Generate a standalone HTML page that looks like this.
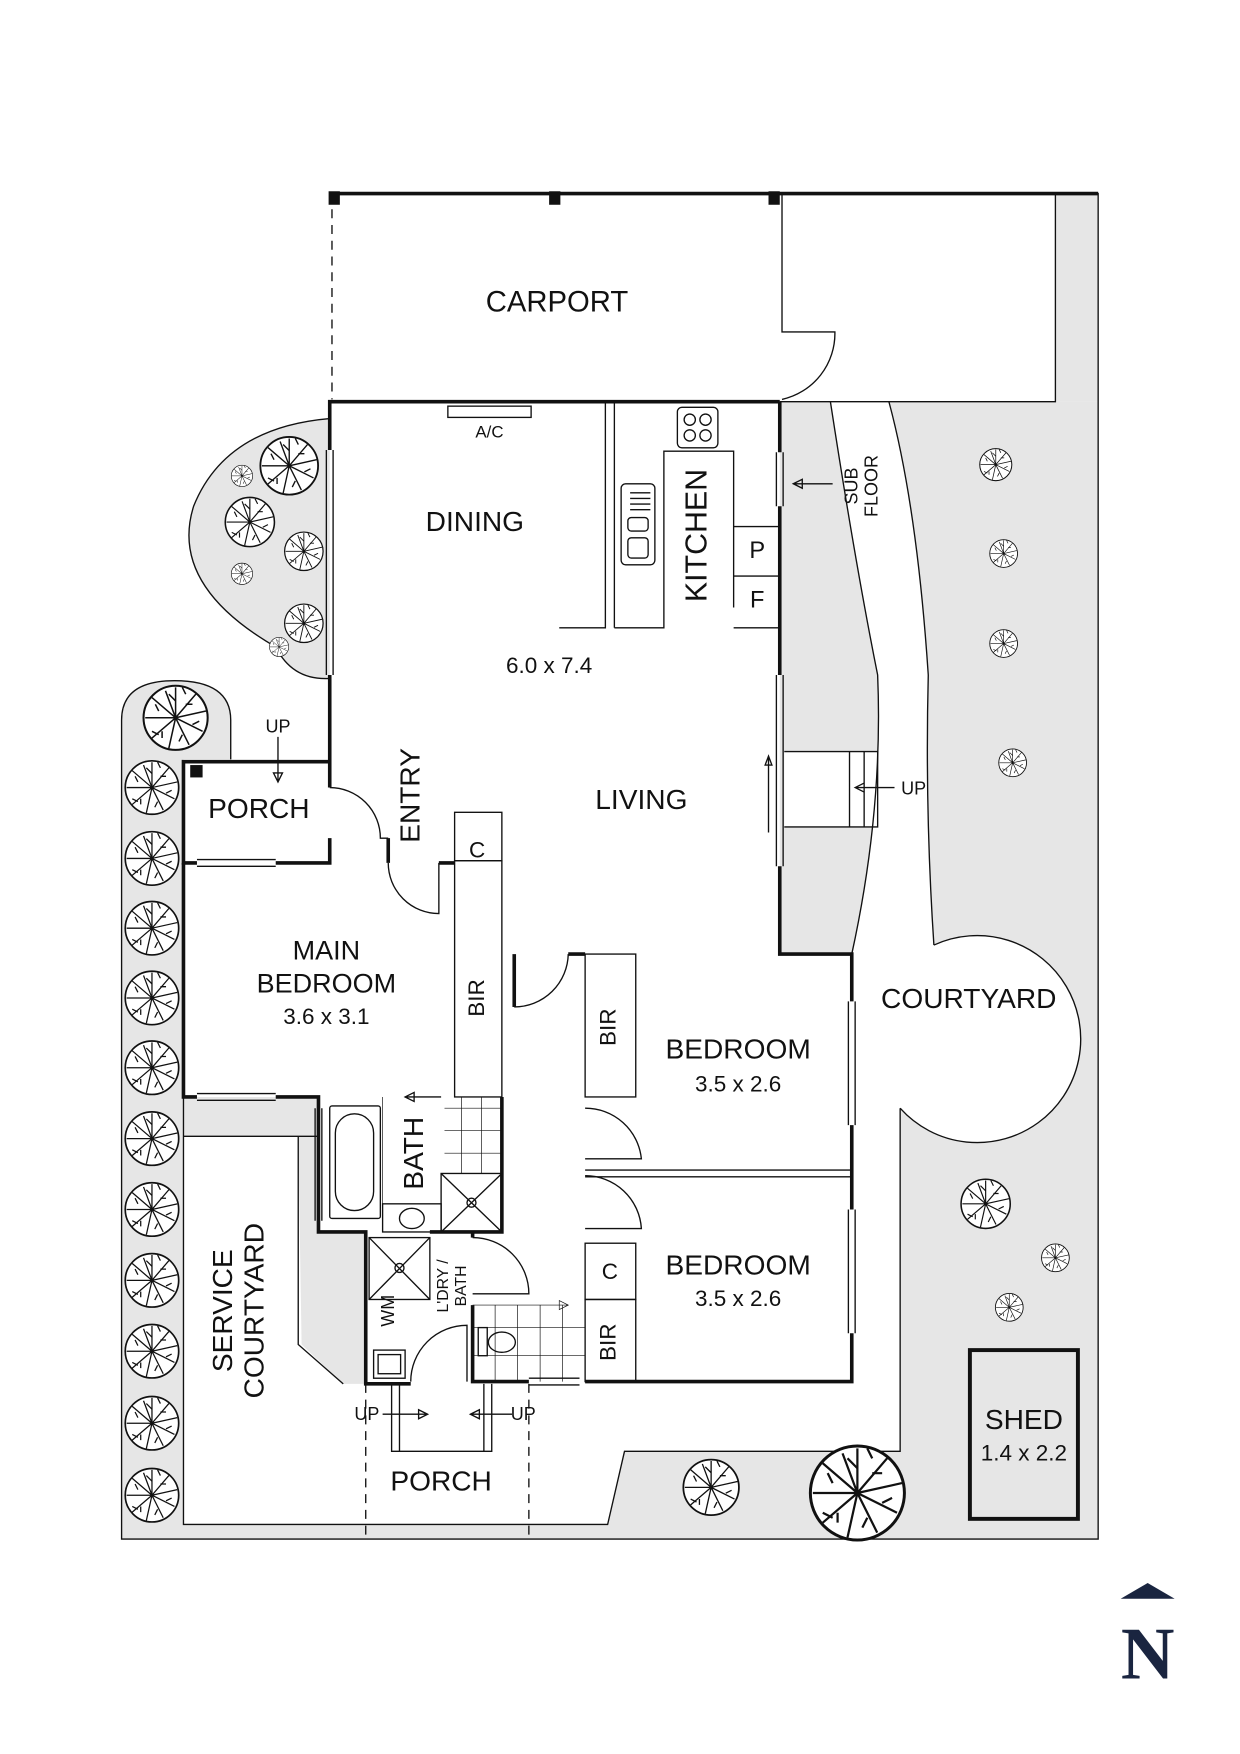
<!DOCTYPE html>
<html><head><meta charset="utf-8"><style>
html,body{margin:0;padding:0;background:#fff}
svg{display:block}
text{font-family:"Liberation Sans",Arial,sans-serif;fill:#111}
</style></head><body>
<svg width="1240" height="1754" viewBox="0 0 1102 1559" xmlns="http://www.w3.org/2000/svg">
<defs>
<symbol id="tr" viewBox="-10 -10 20 20">
<circle r="9.5" fill="#fff" stroke="#111" stroke-width="0.6"/>
<g stroke="#111" stroke-width="0.45" fill="none">
<path d="M0 0L0-9M0 0L6-7M0 0L9-2M0 0L8 4M0 0L4 8M0 0L-2 9M0 0L-7 6M0 0L-9 0M0 0L-7-6M0 0L-3-8"/>
<path d="M0-5L-2-7M3-4L5-4M5 2L7 1M2 5L1 7M-4 4L-4 6M-5-2L-6-4M3-7L2-9M-5 5L-7 4"/>
</g></symbol>
</defs>

<g fill="#e6e6e6" stroke="none">
<rect x="938" y="172" width="38" height="185"/>
<path d="M693 357 H976 V1368 H108 V640 Q108 605 155 605 Q205 605 205 640 V675 H163 V1355 H540 L555 1290 H800 V985 A92 92 0 1 0 830 840 Q822 720 825 600 Q815 450 790 357 H738 Q760 500 780 600 Q785 720 757 848 H693 Z"/>
<path d="M293 372 Q200 380 172 450 Q150 520 245 575 Q260 605 293 603 Z"/>
<path d="M163 975 H283 V1010 H163 Z"/>
<path d="M265 1010 H283 V1095 H325 V1230 H305 L268 1195 Z"/>
</g>
<rect x="697" y="668" width="83" height="67" fill="#fff"/>

<g fill="none" stroke="#111" stroke-width="1.2">
<path d="M938 172 H976 V1368 H108 V640 Q108 605 155 605 Q205 605 205 640 V675"/>
<path d="M938 172 V357 H693"/>
<path d="M163 765 V1355 H540 L555 1290 H800 V985"/>
<path d="M830 840 A92 92 0 1 1 800 985"/>
<path d="M738 357 Q760 500 780 600 Q785 720 757 848"/>
<path d="M790 357 Q815 450 825 600 Q822 720 830 840"/>
<path d="M293 372 Q200 380 172 450 Q150 520 245 575 Q260 605 293 603"/>
<path d="M163 1010 H283 M265 1010 V1195 L305 1230"/>
<path d="M695 172 V295 H742 A60 60 0 0 1 695 355"/>
<path d="M295 172 V355" stroke-dasharray="8 6"/>
<path d="M697 668 H780 V735 H697 M755 668 V735 M768 668 V735 M760 700 H795 M760 700 l8 -4 v8 z"/>
<path d="M683 740 V672 M683 672 l-3 8 h6 z"/>
<path d="M740 430 H705 M705 430 l8 -4 v8 z"/>
<path d="M538 357 V558 H497 M546 357 V558 M546 558 H590 V401 H652 V468 H693 M652 468 V512 H693 M652 512 V540 M652 558 H693"/>
<rect x="602" y="362" width="36" height="36" rx="4"/>
<circle cx="613" cy="373" r="5"/><circle cx="627" cy="373" r="5"/><circle cx="613" cy="387" r="5"/><circle cx="627" cy="387" r="5"/>
<rect x="552" y="430" width="30" height="72" rx="4"/>
<rect x="558" y="460" width="18" height="12" rx="3"/><rect x="558" y="478" width="18" height="18" rx="3"/>
<path d="M560 438 H578 M560 443 H578 M560 448 H578 M560 453 H578"/>
<rect x="398" y="361" width="74" height="10"/>
<path d="M290 400 V600 M296 400 V600 M690 402 V450 M696 402 V450 M690 600 V770 M696 600 V770"/>
<path d="M754 890 V1000 M760 890 V1000 M754 1075 V1185 M760 1075 V1185"/>
<path d="M175 764 H245 M175 770 H245 M175 972 H245 M175 978 H245 M470 1225 H515 M470 1231 H515"/>
<path d="M280 985 V1085 M286 985 V1085"/>
<path d="M247 655 V695 M247 695 l-4 -8 h8 z"/>
<path d="M293 700 A45 45 0 0 1 338 745 H345"/>
<path d="M345 767 A45 45 0 0 0 390 812 V767"/>
<path d="M457 895 A48 48 0 0 0 505 848"/>
<path d="M520 985 A50 50 0 0 1 570 1030 H520"/>
<path d="M520 1045 A50 50 0 0 1 570 1092 H520"/>
<path d="M520 1040 H757 M520 1046 H757"/>
<path d="M420 1100 A50 50 0 0 1 470 1150 H420"/>
<path d="M365 1228 A50 50 0 0 1 415 1178 V1228"/>
<rect x="404" y="722" width="42" height="43"/>
<rect x="404" y="765" width="42" height="210"/>
<rect x="520" y="848" width="45" height="127"/>
<rect x="520" y="1105" width="45" height="50"/>
<rect x="520" y="1155" width="45" height="73"/>
<rect x="293" y="983" width="45" height="100" rx="2"/>
<rect x="298" y="990" width="34" height="86" rx="17"/>
<rect x="392" y="1043" width="54" height="52"/>
<path d="M392 1043 L446 1095 M446 1043 L392 1095"/>
<circle cx="419" cy="1069" r="4"/>
<rect x="340" y="1070" width="52" height="25"/>
<ellipse cx="366" cy="1083" rx="11" ry="9"/>
<path d="M340 975 V1070 M395 985 H446 M395 1005 H446 M395 1025 H446 M410 975 V1043 M428 975 V1043 M446 975 V1043" stroke-width="0.6"/>
<path d="M392 975 H360 M360 975 l8 -4 v8 z"/>
<rect x="328" y="1100" width="54" height="55"/>
<path d="M328 1100 L382 1155 M382 1100 L328 1155"/>
<circle cx="355" cy="1127" r="4"/>
<rect x="332" y="1200" width="28" height="25"/><rect x="336" y="1204" width="20" height="17"/>
<path d="M420 1160 H505 M505 1160 l-8 -4 v8 z M440 1160 V1228 M460 1160 V1228 M480 1160 V1228 M500 1160 V1228 M420 1180 H520 M420 1205 H520" stroke-width="0.6"/>
<rect x="425" y="1180" width="8" height="25"/>
<ellipse cx="446" cy="1193" rx="12" ry="9"/>
<path d="M325 1230 V1368 M470 1230 V1368" stroke-dasharray="8 6"/>
<path d="M348 1230 V1290 H437 V1230 M355 1230 V1290 M430 1230 V1290"/>
<path d="M340 1257 H380 M380 1257 l-8 -4 v8 z M455 1257 H418 M418 1257 l8 -4 v8 z"/>
</g>

<g fill="none" stroke="#111" stroke-width="3.2">
<path d="M295 172 H976"/>
<path d="M693 357 H293 V400 M293 600 V677 H163 V767 H175 M245 767 H293 V745 M345 767 V745 M293 700 V677"/>
<path d="M390 767 H404"/>
<path d="M693 357 V402 M693 450 V600 M693 770 V848 H757 V890 M757 1000 V1075 M757 1185 V1228 H520 M470 1228 H420 V1160"/>
<path d="M163 767 V975 H175 M245 975 H283 V1095 H325 V1230 H365"/>
<path d="M457 848 V895 M505 848 H520"/>
<path d="M446 975 V1095 H382"/>
<path d="M420 1095 V1100"/>
</g>
<rect x="862" y="1200" width="96" height="150" fill="none" stroke="#111" stroke-width="3.5"/>
<g fill="#111">
<rect x="292" y="170" width="10" height="12"/><rect x="488" y="170" width="10" height="12"/><rect x="683" y="170" width="10" height="12"/>
<rect x="169" y="680" width="11" height="11"/>
</g>

<g>
<use href="#tr" x="230" y="387" width="54" height="54"/>
<use href="#tr" x="199" y="441" width="46" height="46"/>
<use href="#tr" x="252" y="472" width="36" height="36"/>
<use href="#tr" x="205" y="500" width="20" height="20"/>
<use href="#tr" x="205" y="413" width="20" height="20"/>
<use href="#tr" x="252" y="536" width="36" height="36"/>
<use href="#tr" x="239" y="566" width="18" height="18"/>
<use href="#tr" x="126" y="608" width="60" height="60"/>
<use href="#tr" x="110" y="675" width="50" height="50"/>
<use href="#tr" x="110" y="738" width="50" height="50"/>
<use href="#tr" x="110" y="800" width="50" height="50"/>
<use href="#tr" x="110" y="862" width="50" height="50"/>
<use href="#tr" x="110" y="924" width="50" height="50"/>
<use href="#tr" x="110" y="987" width="50" height="50"/>
<use href="#tr" x="110" y="1050" width="50" height="50"/>
<use href="#tr" x="110" y="1113" width="50" height="50"/>
<use href="#tr" x="110" y="1176" width="50" height="50"/>
<use href="#tr" x="110" y="1240" width="50" height="50"/>
<use href="#tr" x="110" y="1304" width="50" height="50"/>
<use href="#tr" x="870" y="398" width="30" height="30"/>
<use href="#tr" x="879" y="479" width="26" height="26"/>
<use href="#tr" x="879" y="559" width="26" height="26"/>
<use href="#tr" x="887" y="665" width="26" height="26"/>
<use href="#tr" x="853" y="1047" width="46" height="46"/>
<use href="#tr" x="925" y="1105" width="26" height="26"/>
<use href="#tr" x="884" y="1149" width="26" height="26"/>
<use href="#tr" x="606" y="1296" width="52" height="52"/>
<use href="#tr" x="718" y="1283" width="88" height="88"/>
</g>

<g text-anchor="middle">
<text x="495" y="277" font-size="26">CARPORT</text>
<text x="435" y="389" font-size="15">A/C</text>
<text x="422" y="472" font-size="25">DINING</text>
<text transform="translate(628,476) rotate(-90)" font-size="27">KITCHEN</text>
<text x="673" y="496" font-size="21">P</text>
<text x="673" y="540" font-size="21">F</text>
<text x="488" y="598" font-size="20">6.0 x 7.4</text>
<text transform="translate(762,432) rotate(-90)" font-size="16">SUB</text>
<text transform="translate(780,432) rotate(-90)" font-size="16">FLOOR</text>
<text x="812" y="706" font-size="16">UP</text>
<text x="570" y="719" font-size="25">LIVING</text>
<text transform="translate(373,707) rotate(-90)" font-size="25">ENTRY</text>
<text x="230" y="727" font-size="25">PORCH</text>
<text x="247" y="651" font-size="16">UP</text>
<text x="424" y="762" font-size="20">C</text>
<text x="290" y="853" font-size="24">MAIN</text>
<text x="290" y="882" font-size="24">BEDROOM</text>
<text x="290" y="910" font-size="20">3.6 x 3.1</text>
<text transform="translate(430,887) rotate(-90)" font-size="20">BIR</text>
<text x="861" y="896" font-size="25">COURTYARD</text>
<text transform="translate(547,913) rotate(-90)" font-size="20">BIR</text>
<text x="656" y="941" font-size="25">BEDROOM</text>
<text x="656" y="970" font-size="20">3.5 x 2.6</text>
<text transform="translate(376,1025) rotate(-90)" font-size="25">BATH</text>
<text x="542" y="1137" font-size="20">C</text>
<text x="656" y="1133" font-size="25">BEDROOM</text>
<text x="656" y="1161" font-size="20">3.5 x 2.6</text>
<text transform="translate(398,1143) rotate(-90)" font-size="14">L'DRY /</text>
<text transform="translate(414,1143) rotate(-90)" font-size="14">BATH</text>
<text transform="translate(350,1165) rotate(-90)" font-size="16">WM</text>
<text transform="translate(547,1193) rotate(-90)" font-size="20">BIR</text>
<text transform="translate(206,1165) rotate(-90)" font-size="25">SERVICE</text>
<text transform="translate(234,1165) rotate(-90)" font-size="25">COURTYARD</text>
<text x="326" y="1262" font-size="16">UP</text>
<text x="465" y="1262" font-size="16">UP</text>
<text x="392" y="1325" font-size="25">PORCH</text>
<text x="910" y="1270" font-size="25">SHED</text>
<text x="910" y="1298" font-size="20">1.4 x 2.2</text>
<text x="1020" y="1492" font-size="66" font-weight="bold" style="font-family:'Liberation Serif',serif;fill:#1a2540">N</text>
</g>
<path d="M996 1421 L1020 1407 L1044 1421 Z" fill="#1a2540"/>
</svg>
</body></html>
